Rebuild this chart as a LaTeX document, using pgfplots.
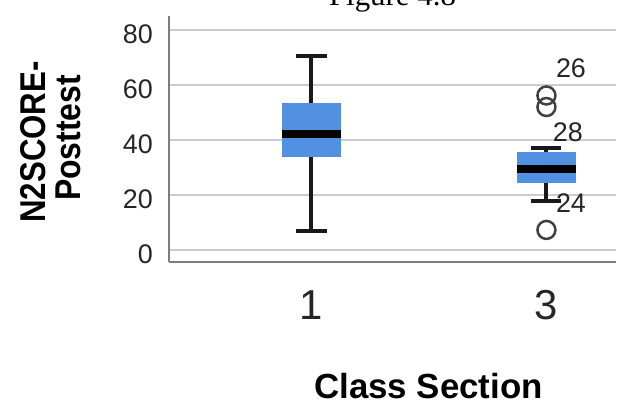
\documentclass[border=0pt]{standalone}
\usepackage{fontspec}
\setmainfont{Liberation Sans}
\newfontfamily\seriffont{Liberation Serif}
\usepackage{pgfplots}
\pgfplotsset{compat=1.18}
\definecolor{boxblue}{RGB}{82,145,226}
\definecolor{gridc}{RGB}{205,205,205}
\definecolor{axc}{RGB}{125,125,125}
\begin{document}
\begin{tikzpicture}
\path[use as bounding box, clip] (0bp,0bp) rectangle (623bp,402bp);
\node[font=\seriffont\fontsize{31}{31}\selectfont, anchor=base, inner sep=0pt] at (392.5bp,396bp) {Figure 4.8};
\begin{axis}[
  at={(169bp,140bp)}, anchor=south west,
  scale only axis, width=447bp, height=246bp,
  xmin=0.394, xmax=2.296, ymin=-4.36, ymax=85.1,
  axis x line=bottom, axis y line=left,
  axis line style={-, axc, line width=2.5bp},
  xtick={1,2}, xticklabels={1,3},
  ytick={0,20,40,60,80},
  major tick length=0pt,
  ymajorgrids, grid style={gridc, line width=2.8bp},
  /pgf/number format/assume math mode=true,
  xticklabel style={font=\fontsize{42}{42}\selectfont, anchor=base, inner sep=0pt, yshift=-58bp, text=black!85},
  yticklabel style={font=\fontsize{27}{27}\selectfont, anchor=east, inner sep=0pt, xshift=-16bp, yshift=-4bp, text=black!85},
  clip=false,
]
% boxes (Q1..Q3)
\addplot[fill=boxblue, draw=none] coordinates {(0.8745,33.8) (1.1255,33.8) (1.1255,53.5) (0.8745,53.5)} -- cycle;
\addplot[fill=boxblue, draw=none] coordinates {(1.8745,24.4) (2.1255,24.4) (2.1255,35.6) (1.8745,35.6)} -- cycle;
% whiskers
\addplot[black!90, line width=4bp] coordinates {(1,53.5) (1,70.5)};
\addplot[black!90, line width=4bp] coordinates {(1,33.8) (1,6.9)};
\addplot[black!90, line width=4bp] coordinates {(0.934,70.5) (1.066,70.5)};
\addplot[black!90, line width=4bp] coordinates {(0.934,6.9) (1.066,6.9)};
\addplot[black!90, line width=4bp] coordinates {(2,35.6) (2,37.1)};
\addplot[black!90, line width=4bp] coordinates {(2,24.4) (2,17.8)};
\addplot[black!90, line width=4bp] coordinates {(1.936,37.1) (2.064,37.1)};
\addplot[black!90, line width=4bp] coordinates {(1.936,17.8) (2.064,17.8)};
% medians
\addplot[black, line width=7.5bp] coordinates {(0.8745,42.2) (1.1255,42.2)};
\addplot[black, line width=7.5bp] coordinates {(1.8745,29.5) (2.1255,29.5)};
% outliers
\addplot[only marks, mark=o, mark size=9bp, mark options={line width=2.5bp, black!75}] coordinates {(2,56.2) (2,52.0) (2,7.3)};
\node[anchor=base west, inner sep=0pt, font=\fontsize{27}{27}\selectfont, text=black!85] at (axis cs:2.040,62.9) {26};
\node[anchor=base west, inner sep=0pt, font=\fontsize{27}{27}\selectfont, text=black!85] at (axis cs:2.027,39.3) {28};
\node[anchor=base west, inner sep=0pt, font=\fontsize{27}{27}\selectfont, text=black!85] at (axis cs:2.040,13.5) {24};
\end{axis}
\node[font=\bfseries\fontsize{35}{35}\selectfont, anchor=base, inner sep=0pt] at (428.5bp,4bp) {Class Section};
\node[font=\bfseries\fontsize{36}{36}\selectfont, anchor=base, inner sep=0pt, rotate=90, xscale=0.87] at (45bp,260bp) {N2SCORE-};
\node[font=\bfseries\fontsize{36}{36}\selectfont, anchor=base, inner sep=0pt, rotate=90, xscale=0.89] at (80bp,264bp) {Posttest};
\end{tikzpicture}
\end{document}
